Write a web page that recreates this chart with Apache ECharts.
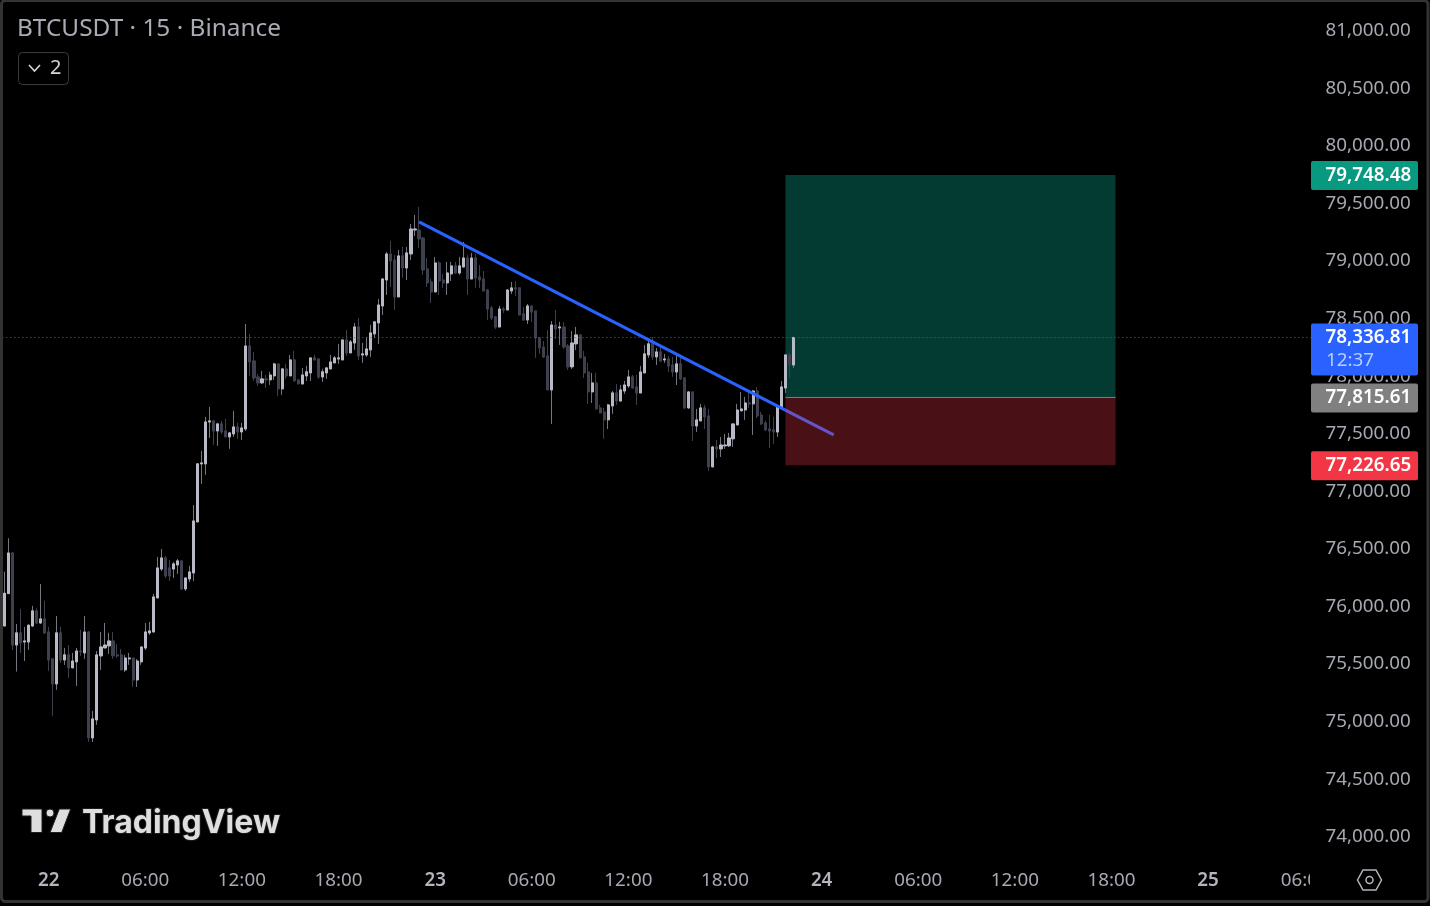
<!DOCTYPE html>
<html><head><meta charset="utf-8">
<style>html,body{margin:0;padding:0;background:#000;overflow:hidden}#c{width:1430px;height:906px}</style>
<script src="https://cdn.jsdelivr.net/npm/echarts@6/dist/echarts.min.js"></script>
</head><body><div id="c"></div>
<script>
const opens=[75831,76112,76465,75666,75771,75692,75692,75831,75962,75857,
75892,75779,75545,75328,75771,75536,75580,75467,75519,75614,
75597,75779,74859,75015,75571,75640,75658,75701,75580,75580,
75449,75545,75553,75362,75519,75640,75771,75779,76075,76326,
76422,76335,76326,76361,76396,76153,76240,76292,76735,77239,
77239,77603,77612,77525,77586,77525,77473,77499,77560,77516,
77542,78263,78133,77994,77942,77977,77968,78003,78107,77890,
78064,78003,78142,77968,77933,78003,78029,78159,78150,77994,
78029,78064,78116,78150,78142,78315,78203,78289,78428,78185,
78185,78229,78368,78463,78610,78836,79062,79010,78689,79045,
78940,79062,79270,79270,79201,78932,78819,78732,78984,78836,
78810,78888,78958,78897,78949,79027,78845,79027,78862,78845,
78749,78593,78515,78428,78584,78576,78741,78767,78767,78541,
78489,78610,78567,78332,78254,78176,77881,78445,78419,78428,
78263,78081,78281,78359,78168,78037,77864,77942,77725,77690,
77621,77742,77855,77785,77872,77916,77994,77907,77855,78029,
78185,78281,78168,78211,78142,78150,78098,78037,78107,77985,
77725,77864,77568,77612,77725,77655,77212,77386,77369,77395,
77395,77456,77577,77699,77707,77768,77760,77872,77664,77594,
77542,77534,77516,77725,77898,78185,78098];
const highs=[76303,76593,76474,75849,75979,75823,75849,76005,75985,76196,
76049,75823,75553,75918,75823,75640,75666,75597,75640,75797,
75918,75788,75093,75614,75779,75857,75771,75779,75675,75632,
75580,75597,75553,75545,75649,75857,75866,76109,76431,76500,
76439,76405,76387,76413,76396,76248,76352,76882,77239,77351,
77647,77734,77612,77595,77612,77629,77516,77699,77595,77595,
78454,78368,78211,78020,78046,78011,78038,78116,78107,78064,
78107,78185,78220,77968,78072,78090,78159,78185,78150,78064,
78081,78185,78176,78281,78315,78402,78315,78463,78507,78289,
78342,78446,78480,78671,78851,79079,79175,79053,79097,79123,
79123,79323,79401,79470,79207,79027,78845,79036,79001,78888,
78993,78993,78993,79036,79166,79053,79071,79062,78966,78914,
78758,78610,78524,78610,78602,78758,78819,78828,78767,78602,
78628,78610,78567,78341,78306,78402,78480,78576,78471,78471,
78280,78393,78428,78359,78220,78116,78029,78029,77751,77725,
77760,77872,77933,77924,77959,78055,78011,78011,78089,78272,
78333,78341,78246,78254,78194,78176,78168,78176,78168,77985,
77864,77864,77716,77760,77751,77716,77395,77447,77473,77499,
77508,77586,77760,77864,77820,77881,77881,77907,77690,77612,
77664,77647,77751,77959,78185,78202,78340];
const lows=[75831,76112,75623,75435,75597,75527,75623,75823,75849,75849,
75762,75441,75050,75276,75510,75493,75380,75467,75310,75571,
75545,74824,74824,74972,75449,75640,75588,75545,75553,75449,
75432,75493,75302,75302,75493,75623,75753,75779,76075,76309,
76248,76222,76248,76283,76144,76135,76214,76222,76735,77065,
77143,77464,77404,77395,77499,77473,77369,77473,77456,77447,
77525,78003,77959,77916,77933,77899,77925,77968,77829,77838,
77977,78003,77959,77933,77933,77959,77959,78142,77977,77951,
77977,78064,78116,78107,78142,78176,78203,78229,78142,78116,
78168,78168,78333,78280,78532,78706,78775,78576,78689,78854,
78836,79010,79218,79114,78880,78775,78636,78732,78706,78767,
78706,78827,78888,78880,78949,78706,78845,78767,78767,78741,
78489,78489,78411,78428,78550,78576,78715,78697,78532,78480,
78454,78471,78159,78194,78159,77881,77586,78324,78272,78237,
78055,78063,78228,78159,77985,77759,77768,77716,77681,77456,
77542,77673,77751,77785,77846,77898,77890,77751,77855,78029,
78159,78142,78098,78124,78116,78037,77994,77924,77968,77716,
77716,77438,77516,77612,77542,77178,77212,77290,77299,77369,
77386,77386,77577,77699,77621,77725,77490,77638,77577,77525,
77377,77412,77473,77725,77855,77985,78072];
const closes=[76115,76465,75666,75771,75684,75701,75837,75962,75857,75892,
75771,75536,75328,75771,75536,75580,75467,75527,75614,75606,
75779,74859,75024,75580,75649,75666,75701,75571,75571,75449,
75553,75553,75362,75527,75649,75779,75788,76083,76335,76422,
76266,76266,76370,76396,76153,76248,76300,76743,77239,77247,
77603,77612,77525,77586,77516,77473,77508,77560,77516,77551,
78263,78124,77985,77942,77977,77968,78011,78107,77890,78064,
78003,78142,77959,77933,78011,78038,78159,78142,77994,78038,
78072,78124,78159,78159,78315,78203,78298,78428,78176,78194,
78237,78376,78472,78619,78845,79062,79001,78689,79045,78940,
79071,79279,79279,79192,78923,78810,78732,78984,78827,78810,
78897,78958,78897,78958,79027,78845,79027,78854,78836,78741,
78584,78506,78428,78584,78576,78749,78767,78758,78532,78489,
78610,78558,78332,78246,78167,77881,78445,78411,78428,78254,
78081,78289,78359,78159,78029,77864,77942,77716,77681,77621,
77751,77855,77785,77881,77924,77994,77898,77855,78037,78194,
78281,78168,78211,78133,78150,78089,78037,78107,77977,77725,
77864,77568,77621,77725,77647,77212,77386,77369,77403,77403,
77464,77586,77707,77716,77768,77760,77872,77655,77586,77534,
77525,77516,77733,77907,78185,78098,78336.81];
const timeTicks=['22','06:00','12:00','18:00','23','06:00','12:00','18:00','24','06:00','12:00','18:00','25','06:00'];
const priceMin=74000, priceMax=81000, priceStep=500;
const lastPrice=78336.81, countdown='12:37';
const targetPrice=79748.48, entryPrice=77815.61, stopPrice=77226.65;
const positionFrom=194, positionTo=276;
const trendX=[103,194,206], trendY=[79340,77706,77490];

const FONT='"Noto Sans", sans-serif';
const AXIS='#a6a9b2';
const L=2.33, W=1308.45, N=325, TOP=30.8, H=806;
const fmt=v=>v.toLocaleString('en-US',{minimumFractionDigits:2,maximumFractionDigits:2});
const categories=Array.from({length:N},(_,i)=>{const k=i-11;return k>=0&&k%24===0&&timeTicks[k/24]||'';});
const candleData=opens.map((o,i)=>[o,closes[i],lows[i],highs[i]]);
const bodyData=opens.map((o,i)=>[o,closes[i],Math.min(o,closes[i]),Math.max(o,closes[i])]);
const tags=[
 {p:targetPrice,c:'#089981',h:29},
 {p:lastPrice,c:'#2962ff',h:52,sub:countdown},
 {p:entryPrice,c:'#808080',h:29},
 {p:stopPrice,c:'#f23645',h:29}
];
const zones=[
 {a:targetPrice,b:entryPrice,c:'rgba(8,153,129,0.38)'},
 {a:entryPrice,b:stopPrice,c:'rgba(242,54,69,0.3)'}
];
const chart=echarts.init(document.getElementById('c'),null,{renderer:'canvas'});
chart.setOption({
 animation:false,
 backgroundColor:'#000',
 title:{text:'BTCUSDT · 15 · Binance',left:12,top:12,textStyle:{color:'#a9acb5',fontSize:24.4,fontWeight:400,fontFamily:FONT}},
 grid:{left:L,top:TOP,width:W,height:H,containLabel:false},
 xAxis:{type:'category',data:categories,boundaryGap:true,axisLine:{show:false},axisTick:{show:false},splitLine:{show:false},
  axisLabel:{interval:0,margin:34,color:AXIS,fontSize:18.8,fontFamily:FONT,hideOverlap:false,
   formatter:v=>v&&!v.includes(':')?`{d|${v}}`:v,rich:{d:{color:'#b2b5be',fontSize:18.8,fontWeight:600,fontFamily:FONT}}}},
 yAxis:{type:'value',position:'right',min:priceMin,max:priceMax,interval:priceStep,axisLine:{show:false},axisTick:{show:false},splitLine:{show:false},
  axisLabel:{align:'right',margin:100,color:AXIS,fontSize:18.8,fontFamily:FONT,formatter:fmt,padding:[0,0,4,0]}},
 series:[
  {name:'trend-under',type:'line',z:1,symbol:'none',silent:true,data:[[trendX[1],trendY[1]],[trendX[2],trendY[2]]],lineStyle:{color:'#2962ff',width:3.2}},
  {name:'position',type:'custom',z:2,silent:true,data:zones.map((z,i)=>[i]),clip:false,
   renderItem(params,api){
    const z=zones[params.dataIndex];
    const p1=api.coord([positionFrom,z.a]),p2=api.coord([positionTo,z.b]);
    const children=[{type:'rect',shape:{x:p1[0],y:p1[1],width:p2[0]-p1[0],height:p2[1]-p1[1]},style:{fill:z.c}}];
    if(params.dataIndex===1)children.push({type:'line',shape:{x1:p1[0],y1:p1[1],x2:p2[0],y2:p1[1]},style:{stroke:'#808080',lineWidth:1}});
    return {type:'group',children};
   }},
  {name:'BTCUSDT',type:'candlestick',z:3,data:candleData,barWidth:2,silent:true,
   itemStyle:{color:'#75767f',color0:'#3e404e',borderColor:'#75767f',borderColor0:'#3e404e',borderWidth:1},
   markLine:{silent:true,symbol:'none',label:{show:false},animation:false,lineStyle:{color:'#2962ff',width:1,type:[1,3],opacity:1},data:[{yAxis:lastPrice}]}},
  {name:'BTCUSDT bodies',type:'candlestick',z:3,data:bodyData,barWidth:2.6,silent:true,
   itemStyle:{color:'#b8bac5',color0:'#3e404e',borderColor:'#b8bac5',borderColor0:'#3e404e',borderWidth:1}},
  {name:'trend',type:'line',z:4,symbol:'none',silent:true,data:[[trendX[0],trendY[0]],[trendX[1],trendY[1]]],lineStyle:{color:'#2962ff',width:3.2}},
  {name:'tags',type:'custom',z:6,silent:true,clip:false,data:tags.map((t,i)=>[i]),
   renderItem(params,api){
    const t=tags[params.dataIndex];
    const y=api.coord([0,t.p])[1];
    const children=[
     {type:'rect',shape:{x:1311,y:y-14,width:107,height:t.h,r:2},style:{fill:t.c}},
     {type:'text',style:{x:1325.5,y:y+0.3,text:fmt(t.p),fill:'#fff',font:`600 18.8px ${FONT}`,textAlign:'left',textVerticalAlign:'middle'}}
    ];
    if(t.sub)children.push({type:'text',style:{x:1326,y:y+23,text:t.sub,fill:'#bccbff',font:`400 18.8px ${FONT}`,textAlign:'left',textVerticalAlign:'middle'}});
    return {type:'group',children};
   }}
 ],
 graphic:{elements:[
  {type:'rect',z:50,silent:true,shape:{x:1310,y:866,width:36,height:28},style:{fill:'#000'}},
  {type:'rect',z:60,silent:true,shape:{x:1.5,y:0.5,width:1426.5,height:901,r:4},style:{fill:'none',stroke:'#333',lineWidth:3}},
  {type:'rect',z:60,silent:true,shape:{x:18.5,y:52.5,width:50,height:32,r:4},style:{fill:'#000',stroke:'#3a3a3e',lineWidth:1}},
  {type:'polyline',z:61,silent:true,shape:{points:[[29,65],[34.5,71],[40,65]]},style:{fill:'none',stroke:'#d6d6da',lineWidth:1.6}},
  {type:'text',z:61,silent:true,style:{x:50,y:68,text:'2',fill:'#d6d6da',font:`400 20px ${FONT}`,textVerticalAlign:'middle'}},
  {type:'polygon',z:61,silent:true,shape:{points:[[22,809],[42,809],[42,832.5],[31,832.5],[31,816],[22,816]]},style:{fill:'#dedede',stroke:'#1e1e1e',lineWidth:1}},
  {type:'circle',z:61,silent:true,shape:{cx:50,cy:813,r:4},style:{fill:'#dedede',stroke:'#1e1e1e',lineWidth:1}},
  {type:'polygon',z:61,silent:true,shape:{points:[[59.3,809],[70.7,809],[61.7,832.5],[50,832.5]]},style:{fill:'#dedede',stroke:'#1e1e1e',lineWidth:1}},
  {type:'text',z:61,silent:true,style:{x:82,y:823.5,text:'TradingView',fill:'#dedede',stroke:'#1e1e1e',lineWidth:2,font:'700 32px Inter, sans-serif',textVerticalAlign:'middle'}},
  {type:'polygon',z:61,silent:true,shape:{points:[[1357.5,880],[1363,870],[1376,870],[1381.5,880],[1376,890],[1363,890]]},style:{fill:'none',stroke:'#b2b5be',lineWidth:1.5}},
  {type:'circle',z:61,silent:true,shape:{cx:1369.5,cy:880,r:3.5},style:{fill:'none',stroke:'#b2b5be',lineWidth:1.5}}
 ]}
});
</script></body></html>
